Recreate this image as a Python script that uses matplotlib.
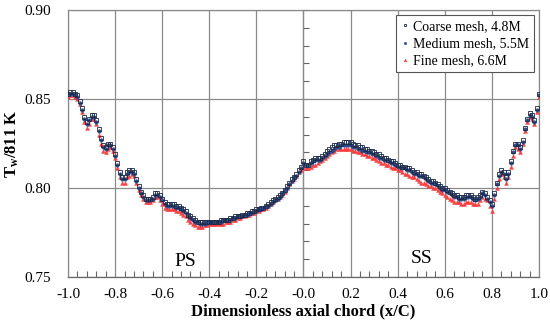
import numpy as np
import matplotlib.pyplot as plt

plt.rcParams['font.family'] = ['Liberation Serif', 'DejaVu Serif']
plt.rcParams['mathtext.fontset'] = 'custom'
plt.rcParams['mathtext.rm'] = 'Liberation Serif'
plt.rcParams['mathtext.bf'] = 'Liberation Serif:bold'

# x/C stations, -1.0 .. 1.0 step 0.01
x = np.round(np.arange(-1.0, 1.0001, 0.01), 2)

coarse = [
    0.853, 0.854, 0.854, 0.853, 0.852, 0.849, 0.845, 0.840, 0.837, 0.839,  # -1.00
    0.841, 0.841, 0.838, 0.833, 0.828, 0.824, 0.823, 0.825, 0.825, 0.823,  # -0.90
    0.819, 0.814, 0.809, 0.806, 0.806, 0.809, 0.810, 0.810, 0.809, 0.805,  # -0.80
    0.801, 0.798, 0.796, 0.794, 0.794, 0.794, 0.795, 0.797, 0.797, 0.796,  # -0.70
    0.794, 0.792, 0.791, 0.791, 0.791, 0.791, 0.790, 0.790, 0.789, 0.788,  # -0.60
    0.787, 0.785, 0.784, 0.783, 0.782, 0.781, 0.781, 0.781, 0.781, 0.781,  # -0.50
    0.781, 0.781, 0.781, 0.781, 0.781, 0.782, 0.782, 0.782, 0.782, 0.783,  # -0.40
    0.783, 0.784, 0.784, 0.784, 0.785, 0.785, 0.786, 0.786, 0.787, 0.787,  # -0.30
    0.788, 0.788, 0.789, 0.789, 0.790, 0.791, 0.792, 0.793, 0.794, 0.795,  # -0.20
    0.796, 0.797, 0.799, 0.801, 0.803, 0.805, 0.806, 0.808, 0.810, 0.812,  # -0.10
    0.815, 0.813, 0.813, 0.815, 0.816, 0.817, 0.817, 0.817, 0.818, 0.819,  # 0.00
    0.821, 0.822, 0.823, 0.824, 0.824, 0.825, 0.825, 0.826, 0.826, 0.826,  # 0.10
    0.826, 0.825, 0.824, 0.824, 0.823, 0.823, 0.822, 0.822, 0.821, 0.821,  # 0.20
    0.820, 0.819, 0.819, 0.818, 0.817, 0.817, 0.816, 0.815, 0.815, 0.814,  # 0.30
    0.813, 0.813, 0.812, 0.812, 0.811, 0.811, 0.810, 0.809, 0.809, 0.808,  # 0.40
    0.808, 0.807, 0.806, 0.805, 0.804, 0.804, 0.803, 0.802, 0.801, 0.800,  # 0.50
    0.800, 0.799, 0.798, 0.797, 0.796, 0.796, 0.795, 0.795, 0.795, 0.796,  # 0.60
    0.796, 0.796, 0.795, 0.794, 0.795, 0.796, 0.798, 0.797, 0.795, 0.793,  # 0.70
    0.791, 0.797, 0.803, 0.808, 0.810, 0.809, 0.806, 0.809, 0.815, 0.821,  # 0.80
    0.825, 0.825, 0.823, 0.827, 0.834, 0.839, 0.842, 0.841, 0.838, 0.845,  # 0.90
    0.853]

medium = [
    0.853, 0.853, 0.853, 0.852, 0.851, 0.848, 0.844, 0.839, 0.836, 0.838,
    0.840, 0.840, 0.837, 0.832, 0.827, 0.823, 0.822, 0.824, 0.824, 0.822,
    0.818, 0.813, 0.808, 0.805, 0.805, 0.808, 0.809, 0.809, 0.808, 0.804,
    0.800, 0.797, 0.795, 0.793, 0.793, 0.793, 0.794, 0.796, 0.796, 0.795,
    0.793, 0.791, 0.790, 0.790, 0.790, 0.790, 0.789, 0.789, 0.788, 0.787,
    0.786, 0.784, 0.783, 0.782, 0.781, 0.781, 0.780, 0.780, 0.780, 0.781,
    0.781, 0.781, 0.781, 0.781, 0.781, 0.781, 0.782, 0.782, 0.782, 0.782,
    0.783, 0.783, 0.784, 0.784, 0.784, 0.785, 0.785, 0.786, 0.786, 0.787,
    0.787, 0.788, 0.788, 0.789, 0.790, 0.790, 0.791, 0.792, 0.793, 0.794,
    0.795, 0.797, 0.799, 0.800, 0.802, 0.804, 0.806, 0.807, 0.809, 0.811,
    0.814, 0.813, 0.813, 0.814, 0.815, 0.816, 0.816, 0.816, 0.817, 0.818,
    0.819, 0.820, 0.821, 0.822, 0.823, 0.823, 0.824, 0.824, 0.824, 0.824,
    0.824, 0.823, 0.823, 0.822, 0.822, 0.821, 0.821, 0.820, 0.820, 0.819,
    0.819, 0.818, 0.817, 0.817, 0.816, 0.816, 0.815, 0.814, 0.814, 0.813,
    0.812, 0.812, 0.811, 0.811, 0.810, 0.810, 0.809, 0.808, 0.808, 0.807,
    0.807, 0.806, 0.805, 0.804, 0.803, 0.803, 0.802, 0.801, 0.800, 0.799,
    0.799, 0.798, 0.797, 0.796, 0.795, 0.795, 0.794, 0.794, 0.794, 0.795,
    0.795, 0.795, 0.794, 0.793, 0.794, 0.795, 0.797, 0.796, 0.794, 0.792,
    0.790, 0.796, 0.802, 0.807, 0.809, 0.808, 0.805, 0.808, 0.814, 0.820,
    0.824, 0.824, 0.822, 0.826, 0.833, 0.838, 0.841, 0.840, 0.837, 0.844,
    0.852]

fine = [
    0.851, 0.852, 0.852, 0.851, 0.850, 0.847, 0.843, 0.837, 0.834, 0.836,
    0.839, 0.839, 0.836, 0.830, 0.825, 0.821, 0.820, 0.822, 0.823, 0.821,
    0.817, 0.811, 0.806, 0.803, 0.803, 0.806, 0.807, 0.808, 0.807, 0.803,
    0.799, 0.796, 0.794, 0.792, 0.792, 0.792, 0.793, 0.795, 0.795, 0.793,
    0.791, 0.789, 0.788, 0.788, 0.788, 0.788, 0.787, 0.787, 0.786, 0.785,
    0.784, 0.782, 0.781, 0.780, 0.779, 0.778, 0.778, 0.778, 0.779, 0.779,
    0.780, 0.780, 0.780, 0.780, 0.780, 0.780, 0.780, 0.781, 0.781, 0.781,
    0.782, 0.782, 0.783, 0.783, 0.784, 0.784, 0.785, 0.785, 0.786, 0.786,
    0.787, 0.787, 0.788, 0.788, 0.789, 0.790, 0.791, 0.792, 0.793, 0.794,
    0.795, 0.796, 0.798, 0.800, 0.802, 0.804, 0.805, 0.807, 0.809, 0.810,
    0.812, 0.811, 0.811, 0.812, 0.813, 0.813, 0.814, 0.815, 0.816, 0.817,
    0.818, 0.819, 0.820, 0.821, 0.822, 0.822, 0.822, 0.822, 0.822, 0.822,
    0.822, 0.821, 0.821, 0.820, 0.820, 0.819, 0.819, 0.818, 0.818, 0.817,
    0.817, 0.816, 0.815, 0.814, 0.814, 0.813, 0.813, 0.812, 0.811, 0.811,
    0.810, 0.810, 0.809, 0.808, 0.808, 0.807, 0.806, 0.806, 0.805, 0.804,
    0.803, 0.803, 0.802, 0.801, 0.801, 0.800, 0.800, 0.799, 0.798, 0.797,
    0.796, 0.795, 0.794, 0.793, 0.792, 0.792, 0.792, 0.791, 0.791, 0.792,
    0.792, 0.792, 0.791, 0.791, 0.791, 0.793, 0.795, 0.794, 0.793, 0.790,
    0.787, 0.794, 0.800, 0.805, 0.808, 0.806, 0.803, 0.806, 0.812, 0.818,
    0.823, 0.822, 0.820, 0.825, 0.832, 0.837, 0.840, 0.839, 0.836, 0.843,
    0.851]

labels = ['Coarse mesh, 4.8M', 'Medium mesh, 5.5M', 'Fine mesh, 6.6M']

fig = plt.figure(figsize=(5.5, 3.25), dpi=100)
ax = fig.add_axes([0.1236, 0.1477, 0.8564, 0.8213])

ax.plot(x, coarse, ls='none', marker='s', ms=2.8, mfc='none', mec='#1c2a4a',
        mew=0.6, label=labels[0], zorder=5)
ax.plot(x, medium, ls='none', marker='o', ms=2.6, mfc='#2b4a8a', mec='#2b4a8a',
        mew=0.3, label=labels[1], zorder=4)
ax.plot(x, fine, ls='none', marker='^', ms=2.8, mfc='#ff3b3b', mec='#ff3b3b',
        mew=0.3, label=labels[2], zorder=3)

ax.set_xlim(-1.0, 1.0)
ax.set_ylim(0.75, 0.90)
ax.set_xticks(np.arange(-1.0, 1.01, 0.2))
ax.set_xticklabels(['%.1f' % v for v in np.arange(-1.0, 1.01, 0.2)])
ax.set_xticks(np.arange(-1.0, 1.001, 0.04), minor=True)
ax.set_yticks([0.75, 0.80, 0.85, 0.90])
ax.set_yticklabels(['0.75', '0.80', '0.85', '0.90'])
ax.tick_params(axis='x', which='major', length=0, labelsize=11, pad=8)
ax.tick_params(axis='x', which='minor', direction='in', length=4,
               color='#666666', width=0.8)
ax.tick_params(axis='y', which='both', length=0, labelsize=11, pad=12)
ax.grid(True, which='major', color='#8a8a8a', lw=0.9)
for s in ax.spines.values():
    s.set_color('#8a8a8a')
    s.set_linewidth(0.9)
ax.spines['bottom'].set_color('#666666')

# vertical axis crossing at x = 0 with minor ticks
sec = ax.secondary_yaxis(0.5)
sec.set_yticks(np.arange(0.75, 0.901, 0.01))
sec.set_yticklabels([])
sec.tick_params(direction='out', length=4, color='#666666', width=0.8)
sec.spines['left'].set_color('#666666')

ax.text(-0.5, 0.7585, 'PS', ha='center', va='center', fontsize=14)
ax.text(0.5, 0.7605, 'SS', ha='center', va='center', fontsize=14)

ax.set_xlabel('Dimensionless axial chord (x/C)', fontsize=12,
              fontweight='bold', labelpad=2)
ax.set_ylabel(r'$\mathbf{T_w}$/811 K', fontsize=12, fontweight='bold',
              labelpad=3)

leg = ax.legend(loc='upper right', fontsize=10, frameon=True, fancybox=False,
                edgecolor='#555555', framealpha=1, handletextpad=0.3,
                handlelength=0.6, borderpad=0.35, labelspacing=0.3,
                borderaxespad=0, bbox_to_anchor=(0.99, 0.98), markerscale=0.7)
leg.get_frame().set_linewidth(0.8)
leg.set_zorder(10)

fig.savefig('out.png')
